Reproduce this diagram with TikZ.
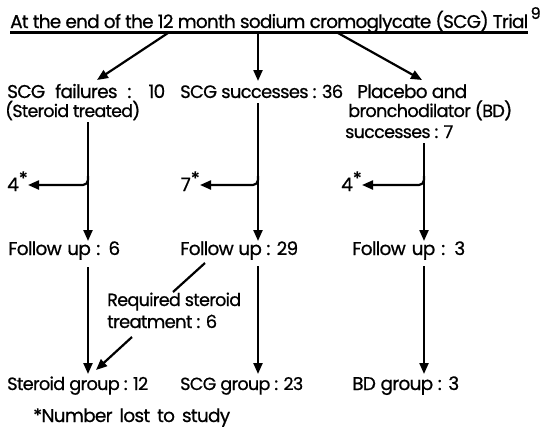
\documentclass[tikz,border=0pt]{standalone}
\usepackage{fontspec}
\usepackage{graphicx}
\setmainfont{Poppins}[FakeBold=0.7,LetterSpace=-4]
\usetikzlibrary{arrows.meta}
\newlength\fwlen
\newcommand{\fw}[2]{\settowidth{\fwlen}{#2}\ifdim\fwlen<#1pt\makebox[#1pt][s]{#2}\else\resizebox{#1pt}{!}{#2}\fi}
\begin{document}
\begin{tikzpicture}[x=1pt,y=-1pt,
  lbl/.style={anchor=base west,inner sep=0pt,font=\fontsize{18.5}{21}\selectfont},
  ln/.style={line width=2.2pt},
  arr/.style={line width=2.2pt,-{Triangle[length=11pt,width=9pt]}},
  br/.style={line width=2.2pt,rounded corners=5pt,-{Triangle[length=11pt,width=9pt]}}]
\useasboundingbox[fill=white] (0,0) rectangle (543,434);

% title
\node[lbl] (title) at (10,28) {\fw{518}{At the end of the 12 month sodium cromoglycate (SCG) Trial}};
\node[anchor=base west,inner sep=0pt,font=\fontsize{16}{18}\selectfont] (sup) at ([xshift=2pt,yshift=9pt]title.base east) {9};
\coordinate (ulA) at (10,32.5);
\coordinate (ulB) at (title.east |- 0,32.5);
\draw[ln] (ulA) -- (ulB);

% row 2
\node[lbl] (fail) at (7,98) {\fw{158}{SCG failures : 10}};
\node[lbl] (failb) at (5,117) {\fw{135}{(Steroid treated)}};
\node[lbl] (succ) at (180,98) {\fw{163}{SCG successes : 36}};
\node[lbl] (plac) at (357,98) {\fw{110}{Placebo and}};
\node[lbl] (placb) at (348,117) {\fw{164}{bronchodilator (BD)}};
\node[lbl] (placc) at (345,138) {\fw{108}{successes : 7}};

\coordinate (t1) at (168,33);
\coordinate (t2) at (258,33);
\coordinate (t3) at (338,33);
\coordinate (h1) at (97,80);
\coordinate (h2) at (258,81);
\coordinate (h3) at (422,80);
\draw[arr] (t1) -- (h1);
\draw[arr] (t2) -- (h2);
\draw[arr] (t3) -- (h3);

% lost to study
\node[lbl,anchor=base east] (l1) at (28,191) {4\raisebox{6pt}{*}};
\node[lbl,anchor=base east] (l2) at (200,191) {7\raisebox{6pt}{*}};
\node[lbl,anchor=base east] (l3) at (362,191) {4\raisebox{6pt}{*}};

% follow up
\node[lbl] (f1) at (8,255) {\fw{112}{Follow up : 6}};
\node[lbl] (f2) at (180,255) {\fw{118}{Follow up : 29}};
\node[lbl] (f3) at (352,255) {\fw{113}{Follow up : 3}};

\coordinate (v1a) at (88,122);
\coordinate (v2a) at (258,103);
\coordinate (v3a) at (424,143);
\coordinate (v1b) at (88,241);
\coordinate (v2b) at (258,241);
\coordinate (v3b) at (424,241);
\draw[arr] (v1a) -- (v1b);
\draw[arr] (v2a) -- (v2b);
\draw[arr] (v3a) -- (v3b);

\coordinate (j1) at (88,176);
\coordinate (j2) at (258,176);
\coordinate (j3) at (424,176);
\draw[br] (j1) |- (l1.east |- 0,185);
\draw[br] (j2) |- (l2.east |- 0,185);
\draw[br] (j3) |- (l3.east |- 0,185);

% required steroid
\node[lbl] (req) at (107,306) {\fw{134}{Required steroid}};
\node[lbl] (reqb) at (107,328) {\fw{110}{treatment : 6}};
\coordinate (d1) at (205,263);
\coordinate (d2) at (173,292);
\draw[ln] (d1) -- (d2);

% groups
\node[lbl] (g1) at (7,390) {\fw{141}{Steroid group : 12}};
\node[lbl] (g2) at (180,390) {\fw{123}{SCG group : 23}};
\node[lbl] (g3) at (352,390) {\fw{107}{BD group : 3}};

\coordinate (w1a) at (88,267);
\coordinate (w2a) at (258,266);
\coordinate (w3a) at (424,266);
\coordinate (w1b) at (88,374);
\coordinate (w2b) at (258,374);
\coordinate (w3b) at (424,374);
\draw[arr] (w1a) -- (w1b);
\draw[arr] (w2a) -- (w2b);
\draw[arr] (w3a) -- (w3b);

\coordinate (r1) at (132,337);
\coordinate (r2) at (96,370);
\draw[arr] (r1) -- (r2);

% footnote
\node[lbl] (foot) at (33,422) {\fw{197}{*Number lost to study}};
\end{tikzpicture}
\end{document}
